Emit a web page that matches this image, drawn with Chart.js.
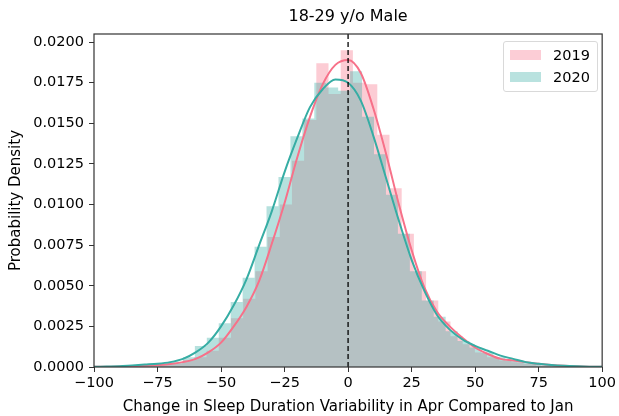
<!DOCTYPE html>
<html>
<head>
<meta charset="utf-8">
<script src="https://cdn.jsdelivr.net/npm/chart.js@4.4.0/dist/chart.umd.min.js"></script>
<style>
  html, body { margin: 0; padding: 0; background: #fff; }
  #wrap { position: relative; width: 619px; height: 416px; }
  #legend {
    position: absolute; left: 503px; top: 41px; width: 95px; height: 51px;
    box-sizing: border-box; border: 1px solid #d9d9d9; border-radius: 3px;
    background: rgba(255,255,255,0.8); font: 14.5px "DejaVu Sans", sans-serif; color: #000;
  }
  .item { position: absolute; left: 6px; height: 16px; display: flex; align-items: center; }
  .sw { width: 31px; height: 10px; margin-right: 12px; }
</style>
</head>
<body>
<div id="wrap">
  <canvas id="chart" width="619" height="416"></canvas>
  <div id="legend">
    <div class="item" style="top:5px"><span class="sw" style="background:rgba(247,113,137,0.35)"></span>2019</div>
    <div class="item" style="top:27px"><span class="sw" style="background:rgba(54,173,164,0.35)"></span>2020</div>
  </div>
</div>
<script>
// histogram bin edges and densities (seaborn picks bins per year)
const histEdges2019 = [-98.9, -94.1, -89.3, -84.5, -79.7, -74.9, -70.1, -65.3, -60.5, -55.7, -50.9, -46.1, -41.3, -36.5, -31.7, -26.9, -22.1, -17.3, -12.5, -7.7, -2.9, 1.9, 6.7, 11.5, 16.3, 21.1, 25.9, 30.7, 35.5, 40.3, 45.1, 49.9, 54.7, 59.5, 64.3, 69.1, 73.9, 78.7, 83.5, 88.3, 93.1, 97.9];
const hist2019 = [0, 0.00002, 0.00005, 0.0001, 0.0001, 0.0002, 0.0002, 0.0004, 0.0006, 0.0010, 0.0018, 0.0030, 0.0042, 0.0059, 0.0080, 0.0100, 0.0127, 0.0152, 0.0187, 0.0168, 0.0195, 0.0175, 0.0174, 0.0143, 0.0110, 0.0082, 0.0059, 0.0041, 0.0028, 0.0019, 0.0014, 0.0009, 0.0006, 0.0004, 0.0003, 0.0002, 0.0001, 0.0001, 0.00005, 0.00002, 0];

const histEdges2020 = [-97.9, -93.2, -88.5, -83.8, -79.1, -74.4, -69.7, -65.0, -60.3, -55.6, -50.9, -46.2, -41.5, -36.8, -32.1, -27.4, -22.7, -18.0, -13.3, -8.6, -3.9, 0.8, 5.5, 10.2, 14.9, 19.6, 24.3, 29.0, 33.7, 38.4, 43.1, 47.8, 52.5, 57.2, 61.9, 66.6, 71.3, 76.0, 80.7, 85.4, 90.1, 94.8, 99.5];
const hist2020 = [0, 0.00003, 0.00005, 0.0001, 0.0002, 0.0002, 0.0003, 0.0006, 0.0013, 0.0018, 0.0027, 0.0040, 0.0055, 0.0074, 0.0099, 0.0117, 0.0142, 0.0153, 0.0175, 0.0172, 0.0170, 0.0182, 0.0154, 0.0131, 0.0106, 0.0082, 0.0059, 0.0041, 0.0031, 0.0022, 0.0016, 0.0012, 0.0009, 0.0006, 0.0004, 0.0003, 0.0002, 0.0001, 0.0001, 0.00005, 0.00002, 0];

// kde curves
const kdeX = [-100, -95, -90, -85, -80, -75, -70, -65, -60, -55, -50, -45, -40, -35, -30, -25, -20, -15, -10, -5, 0, 5, 10, 15, 20, 25, 30, 35, 40, 45, 50, 55, 60, 65, 70, 75, 80, 85, 90, 95, 100];
const kde2019 = [0.00001, 0.00002, 0.00003, 0.00005, 0.00008, 0.00012, 0.00018, 0.0003, 0.0005, 0.0009, 0.0015, 0.0025, 0.0037, 0.0053, 0.0076, 0.0101, 0.0129, 0.0154, 0.0174, 0.0186, 0.0189, 0.0181, 0.0159, 0.0131, 0.0100, 0.0072, 0.0049, 0.0034, 0.0025, 0.0018, 0.0012, 0.0008, 0.0005, 0.0004, 0.0003, 0.0002, 0.00012, 0.00007, 0.00004, 0.00002, 0.00001];
const kde2020 = [0.00001, 0.00003, 0.00005, 0.0001, 0.00015, 0.0002, 0.0003, 0.0005, 0.0009, 0.0015, 0.0025, 0.0038, 0.0054, 0.0075, 0.0096, 0.0120, 0.0141, 0.0160, 0.0171, 0.0177, 0.0175, 0.0164, 0.0142, 0.0116, 0.0090, 0.0066, 0.0047, 0.0032, 0.0023, 0.0017, 0.0013, 0.0010, 0.0007, 0.0005, 0.0003, 0.0002, 0.00012, 0.00007, 0.00004, 0.00002, 0.00001];

const xMin = -100, xMax = 100, xStep = 25;
const yMax = 0.0205, yStep = 0.0025;

const FONT = "'DejaVu Sans', sans-serif";

function histPoints(edges, values) {
    let pts = values.map((v, i) => ({x: edges[i], y: v}));
    pts.push({x: edges[edges.length - 1], y: values[values.length - 1]});
    return pts;
}

function kdePoints(xs, ys) {
    return xs.map((x, i) => ({x: x, y: ys[i]}));
}

// matplotlib style frame round the axes
const frame = {
    id: 'frame',
    afterDatasetsDraw(chart) {
        const a = chart.chartArea;
        const ctx = chart.ctx;
        ctx.save();
        ctx.strokeStyle = '#333';
        ctx.lineWidth = 1.2;
        ctx.strokeRect(a.left, a.top, a.right - a.left, a.bottom - a.top);
        ctx.restore();
    }
};

new Chart(document.getElementById('chart'), {
    type: 'line',
    data: {
        datasets: [
            {
                label: 'zero',
                data: [{x: 0, y: 0}, {x: 0, y: yMax}],
                borderColor: '#000',
                borderWidth: 1.3,
                borderDash: [5, 3],
                pointRadius: 0,
                fill: false
            },
            {
                label: '2020 kde',
                data: kdePoints(kdeX, kde2020),
                borderColor: '#36ada4',
                borderWidth: 2,
                pointRadius: 0,
                cubicInterpolationMode: 'monotone',
                fill: false
            },
            {
                label: '2019 kde',
                data: kdePoints(kdeX, kde2019),
                borderColor: '#f77189',
                borderWidth: 2,
                pointRadius: 0,
                cubicInterpolationMode: 'monotone',
                fill: false
            },
            {
                label: '2020',
                data: histPoints(histEdges2020, hist2020),
                stepped: true,
                borderColor: 'rgba(0,0,0,0)',
                borderWidth: 1,
                backgroundColor: 'rgba(54,173,164,0.36)',
                pointRadius: 0,
                fill: 'origin'
            },
            {
                label: '2019',
                data: histPoints(histEdges2019, hist2019),
                stepped: true,
                borderColor: 'rgba(0,0,0,0)',
                borderWidth: 1,
                backgroundColor: 'rgba(247,113,137,0.36)',
                pointRadius: 0,
                fill: 'origin'
            }
        ]
    },
    options: {
        responsive: false,
        animation: false,
        layout: {padding: {left: 0, right: 15, top: 0, bottom: 0}},
        plugins: {
            legend: {display: false},
            tooltip: {enabled: false},
            title: {
                display: true,
                text: '18-29 y/o Male',
                fullSize: false,
                color: '#000',
                font: {family: FONT, size: 16, weight: 'normal'},
                padding: {top: 7.4, bottom: 7.4}
            }
        },
        scales: {
            x: {
                type: 'linear',
                min: xMin,
                max: xMax,
                border: {display: false},
                grid: {drawOnChartArea: false, drawTicks: true, tickLength: 5, color: '#333', lineWidth: 1},
                ticks: {
                    stepSize: xStep,
                    color: '#000',
                    padding: 3,
                    maxRotation: 0,
                    font: {family: FONT, size: 14.5},
                    callback: (v) => String(v).replace('-', '\u2212')
                },
                title: {
                    display: true,
                    text: 'Change in Sleep Duration Variability in Apr Compared to Jan',
                    color: '#000',
                    font: {family: FONT, size: 15},
                    padding: {top: 0, bottom: 0}
                },
                afterFit(scale) { scale.height = 49; }
            },
            y: {
                type: 'linear',
                min: 0,
                max: yMax,
                border: {display: false},
                grid: {drawOnChartArea: false, drawTicks: true, tickLength: 5, color: '#333', lineWidth: 1},
                ticks: {
                    stepSize: yStep,
                    includeBounds: false,
                    color: '#000',
                    padding: 5,
                    font: {family: FONT, size: 14.5},
                    callback: (v) => v.toFixed(4)
                },
                title: {
                    display: true,
                    text: 'Probability Density',
                    color: '#000',
                    font: {family: FONT, size: 15},
                    padding: {top: 7, bottom: 0}
                },
                afterFit(scale) { scale.width = 94; }
            }
        }
    },
    plugins: [frame]
});
</script>
</body>
</html>
